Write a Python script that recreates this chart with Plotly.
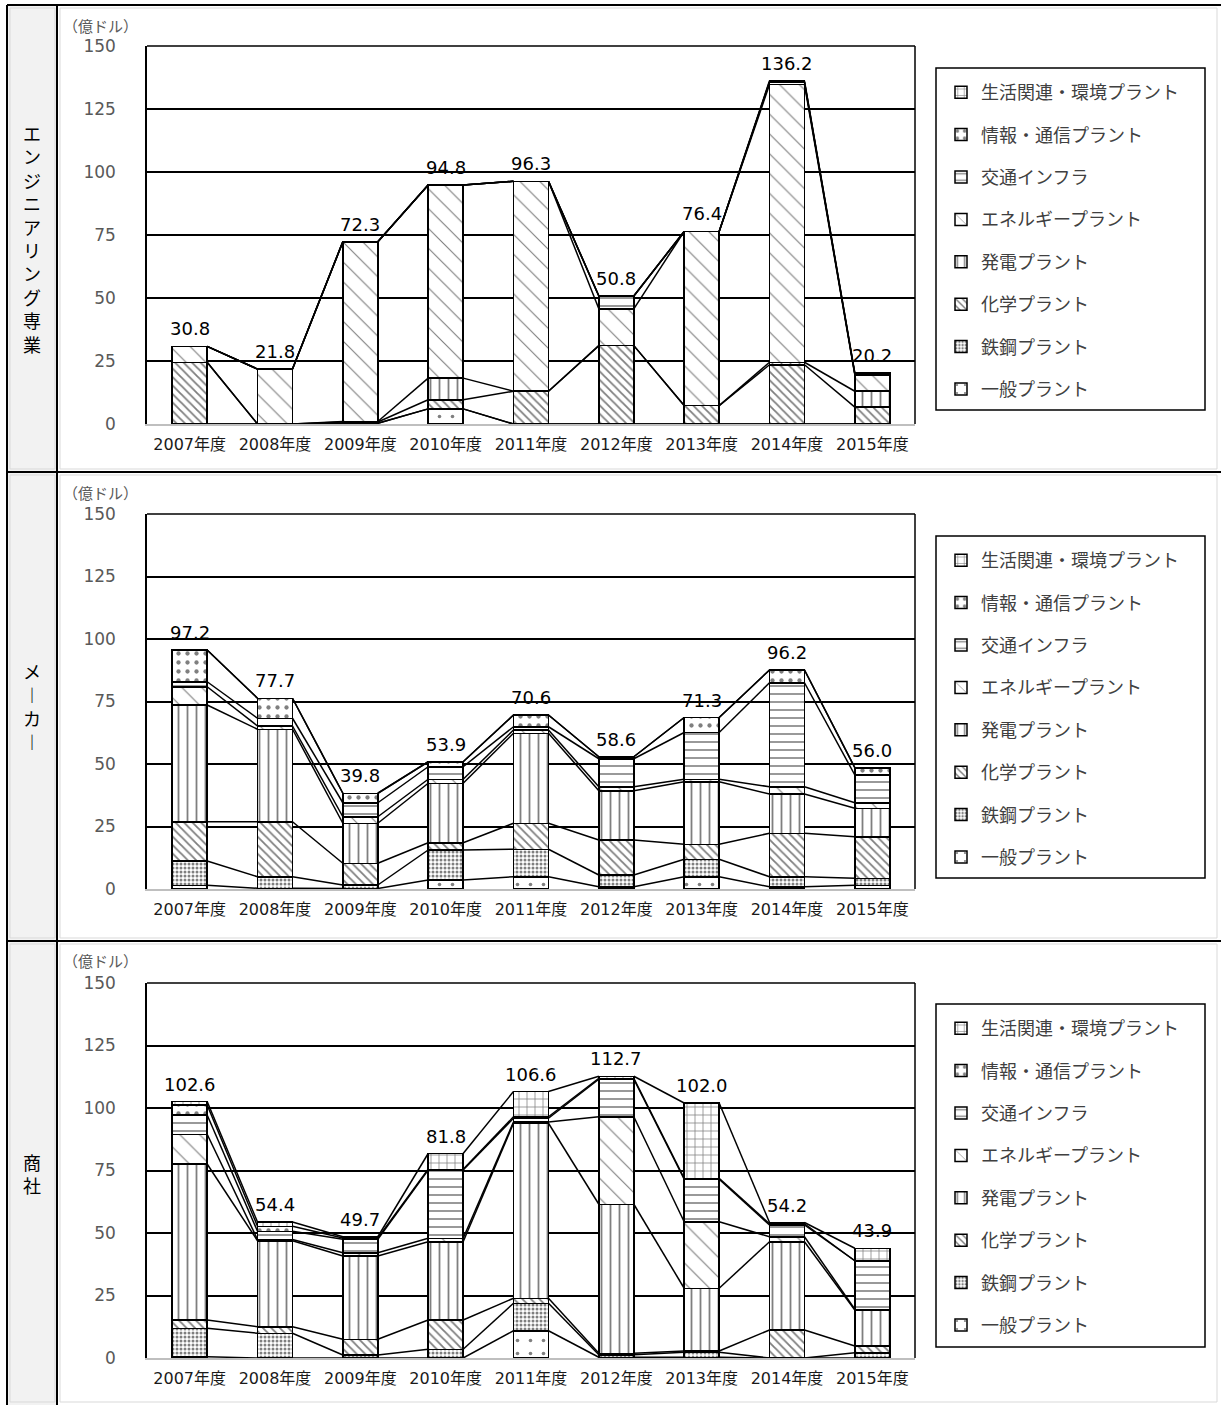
import plotly.graph_objects as go

W, H = 1221, 1405

years = ["2007年度", "2008年度", "2009年度", "2010年度", "2011年度",
         "2012年度", "2013年度", "2014年度", "2015年度"]
series_names = ["一般プラント", "鉄鋼プラント", "化学プラント", "発電プラント",
                "エネルギープラント", "交通インフラ", "情報・通信プラント", "生活関連・環境プラント"]
panel_names = ["エンジニアリング専業", "メーカー", "商社"]

# エンジニアリング専業 (億ドル)
eng_general = [0, 0, 0.3, 6.0, 0, 0, 0, 0, 0]
eng_steel = [0, 0, 0, 0, 0, 0, 0, 0, 0]
eng_chem = [24.5, 0, 0.5, 3.6, 13.0, 31.1, 7.3, 23.5, 6.7]
eng_power = [0, 0, 0.2, 8.6, 0, 0, 0, 1.0, 6.3]
eng_energy = [6.3, 21.8, 71.3, 76.6, 83.3, 14.6, 69.1, 110.2, 6.5]
eng_transport = [0, 0, 0, 0, 0, 5.1, 0, 1.0, 0.4]
eng_ict = [0, 0, 0, 0, 0, 0, 0, 0, 0]
eng_living = [0, 0, 0, 0, 0, 0, 0, 0.5, 0.3]
eng_totals = [30.8, 21.8, 72.3, 94.8, 96.3, 50.8, 76.4, 136.2, 20.2]

# メーカー
mfr_general = [1.5, 0.3, 0.2, 3.6, 4.9, 0.9, 4.9, 0.9, 1.5]
mfr_steel = [9.7, 4.6, 1.4, 12.0, 11.0, 4.7, 7.0, 4.0, 2.8]
mfr_chem = [15.7, 22.0, 8.7, 2.9, 10.4, 14.0, 6.0, 17.4, 16.6]
mfr_power = [46.7, 37.0, 16.0, 23.8, 36.0, 19.7, 25.0, 15.7, 11.4]
mfr_energy = [7.3, 1.3, 2.6, 1.6, 1.3, 1.6, 1.0, 2.9, 2.2]
mfr_transport = [2.0, 3.1, 5.6, 5.0, 1.3, 11.2, 18.7, 41.6, 11.1]
mfr_ict = [12.7, 8.0, 3.8, 2.0, 4.7, 0.8, 6.0, 5.1, 2.9]
mfr_living = [0, 0, 0, 0, 0, 0, 0, 0, 0]
mfr_totals = [97.2, 77.7, 39.8, 53.9, 70.6, 58.6, 71.3, 96.2, 56.0]

# 商社
trd_general = [0.5, 0, 0, 0, 10.9, 0.3, 0.3, 0, 0]
trd_steel = [11.4, 9.9, 1.2, 3.5, 11.0, 1.0, 2.0, 0, 2.1]
trd_chem = [3.3, 2.6, 6.3, 11.7, 2.0, 0.6, 0.5, 11.2, 2.7]
trd_power = [62.4, 34.4, 33.3, 31.3, 70.0, 59.6, 25.1, 35.3, 14.4]
trd_energy = [11.9, 0.5, 1.3, 1.4, 0.5, 35.0, 26.6, 2.0, 0.3]
trd_transport = [7.7, 3.3, 5.4, 27.3, 1.5, 15.0, 17.0, 4.7, 19.4]
trd_ict = [4.0, 2.0, 0.5, 0.3, 0.6, 0.4, 0.4, 0.5, 0]
trd_living = [1.4, 1.7, 0.5, 6.3, 10.1, 0.8, 30.1, 0.5, 5.0]
trd_totals = [102.6, 54.4, 49.7, 81.8, 106.6, 112.7, 102.0, 54.2, 43.9]

panels = [
    [eng_general, eng_steel, eng_chem, eng_power, eng_energy, eng_transport, eng_ict, eng_living],
    [mfr_general, mfr_steel, mfr_chem, mfr_power, mfr_energy, mfr_transport, mfr_ict, mfr_living],
    [trd_general, trd_steel, trd_chem, trd_power, trd_energy, trd_transport, trd_ict, trd_living],
]
totals = [eng_totals, mfr_totals, trd_totals]

# 白黒の塗りパターン（系列順）
patterns = [
    dict(shape=".", size=13, solidity=0.06),
    dict(shape=".", size=4, solidity=0.45),
    dict(shape="\\", size=6, solidity=0.3),
    dict(shape="|", size=9, solidity=0.2),
    dict(shape="\\", size=14, solidity=0.08),
    dict(shape="-", size=8, solidity=0.2),
    dict(shape=".", size=9, solidity=0.18),
    dict(shape="+", size=8, solidity=0.18),
]

JP = "Noto Sans CJK JP"
NUM = "DejaVu Sans, Noto Sans CJK JP"
BAR_W = 0.41

# パネル配置（ピクセル）
plot_left, plot_right = 147, 915
plot_rows = [(46, 424), (514, 889), (983, 1358)]
unit_label_y = [26, 492, 961]
legend_boxes = [(68, 410), (536, 878), (1004, 1347)]
row_bounds = [(5, 472), (472, 941), (941, 1405)]


def fx(p):
    return p / W


def fy(p):
    return 1 - p / H


fig = go.Figure()
annotations = []

for k, data in enumerate(panels):
    xa = "x" if k == 0 else f"x{k + 1}"
    ya = "y" if k == 0 else f"y{k + 1}"
    lg = "legend" if k == 0 else f"legend{k + 1}"
    idx = list(range(len(years)))
    for s, vals in enumerate(data):
        fig.add_trace(go.Bar(
            x=idx, y=vals, name=series_names[s], width=BAR_W,
            xaxis=xa, yaxis=ya, legend=lg, legendgroup=f"{k}-{s}",
            legendrank=100 - s,
            marker=dict(color="white", line=dict(color="black", width=1.5),
                        pattern=dict(fgcolor="black", bgcolor="white", **patterns[s])),
            hoverinfo="skip",
        ))
    # 系列線
    cum = [0.0] * len(years)
    for s, vals in enumerate(data):
        cum = [c + v for c, v in zip(cum, vals)]
        xs, ys = [], []
        for i in range(len(years) - 1):
            xs += [i + BAR_W / 2, i + 1 - BAR_W / 2, None]
            ys += [cum[i], cum[i + 1], None]
        fig.add_trace(go.Scatter(x=xs, y=ys, mode="lines", xaxis=xa, yaxis=ya,
                                 line=dict(color="black", width=1.5),
                                 showlegend=False, hoverinfo="skip"))
    # 合計ラベル
    for i, t in enumerate(totals[k]):
        annotations.append(dict(
            x=i, y=cum[i], xref=xa, yref=ya, text=f"{t:.1f}", showarrow=False,
            xanchor="center", yanchor="bottom", yshift=5,
            font=dict(size=18, color="black", family=NUM)))

layout = dict(
    width=W, height=H, margin=dict(l=0, r=0, t=0, b=0, autoexpand=False),
    paper_bgcolor="white", plot_bgcolor="white",
    barmode="stack", showlegend=True,
    font=dict(family=JP, color="black"),
)
shapes = []

# 表の枠
shapes.append(dict(type="rect", xref="paper", yref="paper", x0=fx(8), x1=fx(57), y0=fy(1405), y1=fy(5),
                   fillcolor="#f2f2f2", line=dict(width=0), layer="below"))
for (t, b) in row_bounds:
    shapes.append(dict(type="rect", xref="paper", yref="paper", x0=fx(10), x1=fx(55), y0=fy(b - 3), y1=fy(t + 3),
                       line=dict(color="#d9d9d9", width=1), layer="below"))
    shapes.append(dict(type="rect", xref="paper", yref="paper", x0=fx(60), x1=fx(1217), y0=fy(b - 3), y1=fy(t + 3),
                       line=dict(color="#d9d9d9", width=1), layer="below"))
for p in [5, 472, 941]:
    shapes.append(dict(type="line", xref="paper", yref="paper", x0=fx(7), x1=1, y0=fy(p), y1=fy(p),
                       line=dict(color="black", width=2)))
for p in [7, 57]:
    shapes.append(dict(type="line", xref="paper", yref="paper", x0=fx(p), x1=fx(p), y0=0, y1=fy(5),
                       line=dict(color="black", width=2)))

for k in range(3):
    top, bot = plot_rows[k]
    xkey = "xaxis" if k == 0 else f"xaxis{k + 1}"
    ykey = "yaxis" if k == 0 else f"yaxis{k + 1}"
    lkey = "legend" if k == 0 else f"legend{k + 1}"
    xa = "x" if k == 0 else f"x{k + 1}"
    ya = "y" if k == 0 else f"y{k + 1}"
    layout[xkey] = dict(
        domain=[fx(plot_left), fx(plot_right)], anchor=ya, range=[-0.5, len(years) - 0.5],
        tickvals=list(range(len(years))), ticktext=years, showgrid=False, zeroline=False,
        showline=True, linecolor="#bfbfbf", linewidth=1.5, ticks="outside", ticklen=5,
        tickcolor="rgba(0,0,0,0)", tickfont=dict(size=16, color="#1a1a1a", family=NUM),
        fixedrange=True, automargin=False)
    layout[ykey] = dict(
        domain=[fy(bot), fy(top)], anchor=xa, range=[0, 150], tickvals=list(range(0, 151, 25)),
        showgrid=True, gridcolor="black", gridwidth=1.5, zeroline=False,
        showline=True, linecolor="black", linewidth=1.5, ticks="outside", ticklen=26,
        tickcolor="rgba(0,0,0,0)", tickfont=dict(size=17, color="#595959", family=NUM),
        fixedrange=True, automargin=False)
    lt, lb = legend_boxes[k]
    layout[lkey] = dict(
        x=fx(941), y=fy(lt + 6), xanchor="left", yanchor="top",
        borderwidth=0, bgcolor="rgba(0,0,0,0)",
        font=dict(size=18, color="#404040", family=JP),
        traceorder="grouped", tracegroupgap=16, itemwidth=30)
    shapes.append(dict(type="rect", xref="paper", yref="paper", x0=fx(936), x1=fx(1205),
                       y0=fy(lb), y1=fy(lt), line=dict(color="black", width=1.5), layer="below"))
    # プロット枠（上・右）
    shapes.append(dict(type="line", xref=f"{xa} domain", yref=f"{ya} domain", x0=0, x1=1, y0=1, y1=1,
                       line=dict(color="black", width=1.5)))
    shapes.append(dict(type="line", xref=f"{xa} domain", yref=f"{ya} domain", x0=1, x1=1, y0=0, y1=1,
                       line=dict(color="black", width=1.5)))
    annotations.append(dict(text="（億ドル）", xref="paper", yref="paper", x=fx(100), y=fy(unit_label_y[k]),
                            xanchor="center", yanchor="middle",
                            showarrow=False, font=dict(size=15, color="#595959", family=JP)))
    t, b = row_bounds[k]
    vert = "<br>".join(ch if ch != "ー" else "︱" for ch in panel_names[k])
    annotations.append(dict(text=vert, xref="paper", yref="paper", x=fx(32), y=fy((t + b) / 2),
                            xanchor="center", yanchor="middle",
                            showarrow=False, font=dict(size=18, color="black", family=JP)))

layout["shapes"] = shapes
layout["annotations"] = annotations
fig.update_layout(**layout)

fig.write_html("out.html", config={"displayModeBar": False},
               post_script="document.body.style.margin='0';")
